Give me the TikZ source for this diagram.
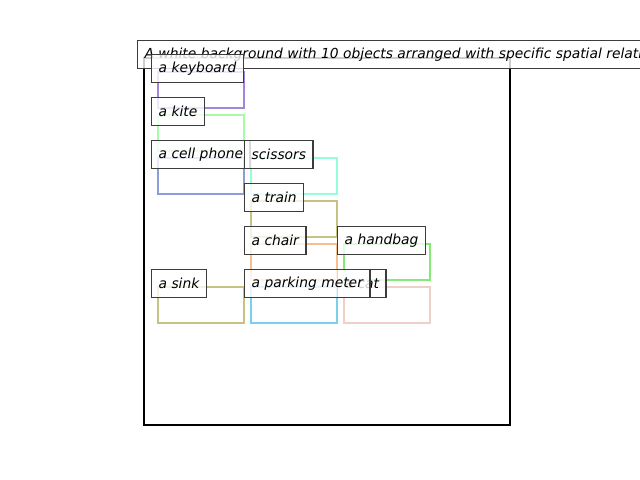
\documentclass[tikz,border=0pt]{standalone}
\usepackage{fontspec}
\setmainfont{DejaVu Sans}
\usepackage{tikz}
\usetikzlibrary{positioning}
\usepackage{xcolor}
\definecolor{cKeyboard}{RGB}{147,112,219}
\definecolor{cKite}{RGB}{152,251,152}
\definecolor{cPhone}{RGB}{120,140,210}
\definecolor{cScissors}{RGB}{127,255,212}
\definecolor{cKhaki}{RGB}{189,183,107}
\definecolor{cChair}{RGB}{244,164,96}
\definecolor{cHandbag}{RGB}{110,230,90}
\definecolor{cMeter}{RGB}{100,200,235}
\definecolor{cCat}{RGB}{235,200,190}
\definecolor{lblgray}{RGB}{60,60,60}

\begin{document}
\begin{tikzpicture}[x=0.01in,y=-0.01in,
  objbox/.style={draw,line width=1.8pt,draw opacity=0.85},
  lbl/.style={rectangle,draw=lblgray,line width=0.9pt,fill=white,fill opacity=0.8,
              text opacity=1,anchor=north west,inner xsep=0.07in,inner ysep=0pt,
              minimum height=0.28in,font=\fontsize{10}{12}\selectfont\itshape},
]
\useasboundingbox (0,0) rectangle (640,480);
\clip (0,0) rectangle (640,480);
% frame
\draw[line width=1.6pt] (144,58) rectangle (510,425);
\node[lbl] (title) at (137,40) {A white background with 10 objects arranged with specific spatial relationships};

% object boxes
\draw[objbox,cKeyboard] (158,72)  rectangle (244,108);
\draw[objbox,cKite]     (158,115) rectangle (244,151);
\draw[objbox,cPhone]    (158,158) rectangle (244,194);
\draw[objbox,cScissors] (251,158) rectangle (337,194);
\draw[objbox,cKhaki]    (251,201) rectangle (337,237);
\draw[objbox,cChair,draw opacity=0.7] (251,244) rectangle (337,280);
\draw[objbox,cHandbag]  (344,244) rectangle (430,280);
\draw[objbox,cKhaki]    (158,287) rectangle (244,323);
\draw[objbox,cMeter]    (251,287) rectangle (337,323);
\draw[objbox,cCat]      (344,287) rectangle (430,323);

% labels
\node[lbl] (keyboard) at (151,54)  {a keyboard};
\node[lbl] (kite)     at (151,97)  {a kite};
\node[lbl] (phone)    at (151,140) {a cell phone};
\node[lbl] (scissors) at (244,140) {scissors};
\node[lbl] (train)    at (244,183) {a train};
\node[lbl] (chair)    at (244,226) {a chair};
\node[lbl] (handbag)  at (337,226) {a handbag};
\node[lbl] (sink)     at (151,269) {a sink};
\node[lbl] (cat)      at (337,269) {a cat};
\node[lbl] (meter)    at (244,269) {a parking meter};
\end{tikzpicture}
\end{document}
